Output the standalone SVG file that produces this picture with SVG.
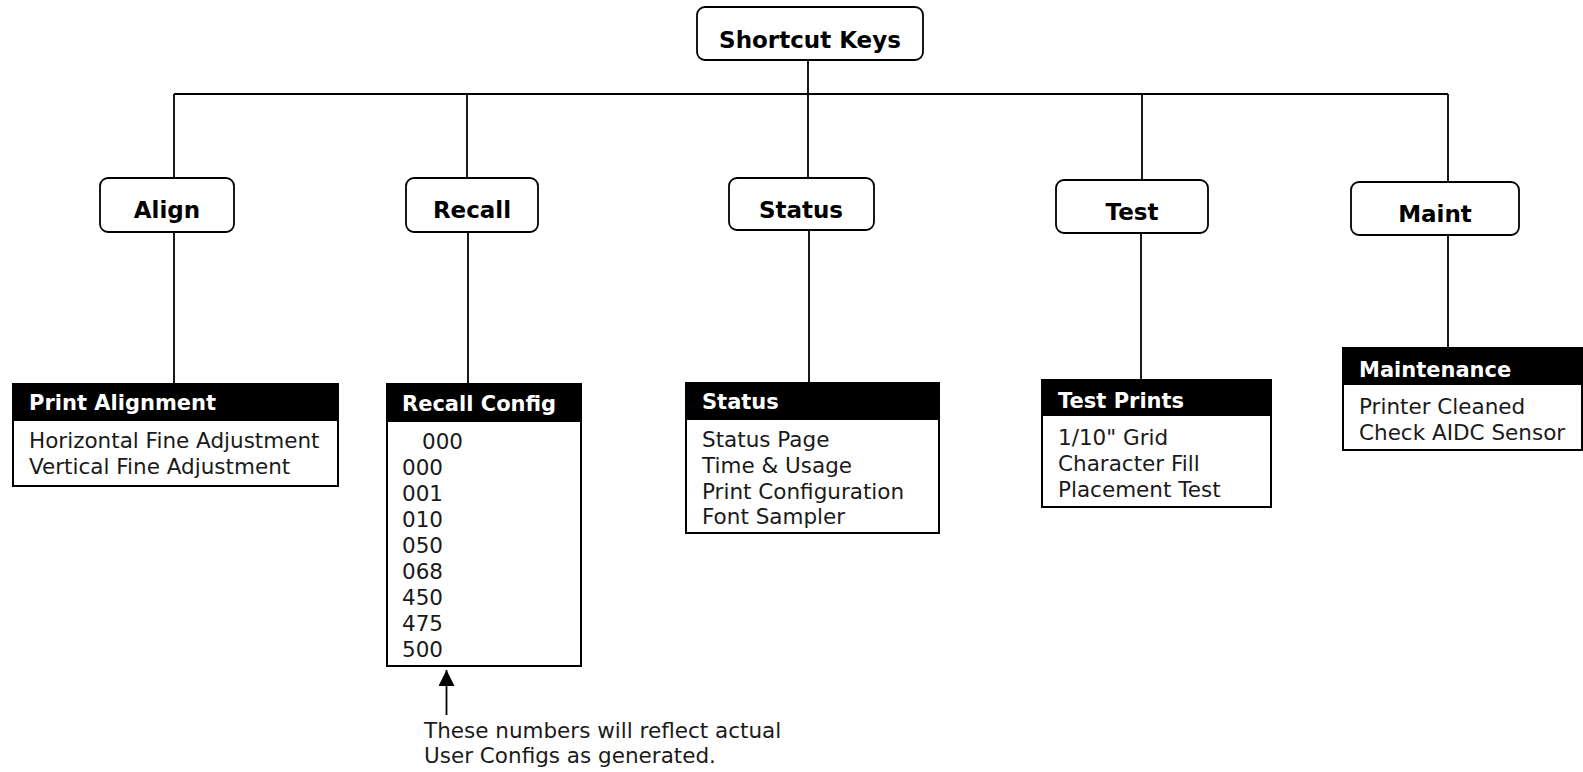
<svg xmlns="http://www.w3.org/2000/svg" width="1583" height="772" viewBox="0 0 1583 772">
<style>
.node{fill:#fff;stroke:#000;stroke-width:1.8}
.ttl{font-family:"DejaVu Sans",Verdana,sans-serif;font-weight:bold;font-size:23px;fill:#000;text-anchor:middle}
.box{fill:#fff;stroke:#000;stroke-width:2}
.hdr{fill:#000}
.htx{font-family:"DejaVu Sans",Verdana,sans-serif;font-weight:bold;font-size:21px;fill:#fff}
.btx{font-family:"DejaVu Sans",Verdana,sans-serif;font-size:21.5px;fill:#1a1a1a}
.ln{stroke:#000;stroke-width:1.8;fill:none}
</style>
<defs>
<marker id="ah" viewBox="0 0 10 10" refX="10" refY="5" markerWidth="16" markerHeight="16" markerUnits="userSpaceOnUse" orient="auto"><path d="M0,0 L10,5 L0,10 Z" fill="#000"/></marker>
</defs>
<g id="connectors">
<line class="ln" x1="808" y1="60" x2="808" y2="94"/>
<line class="ln" x1="174" y1="94" x2="1448" y2="94"/>
<line class="ln" x1="174" y1="94" x2="174" y2="179"/>
<line class="ln" x1="467" y1="94" x2="467" y2="178"/>
<line class="ln" x1="808" y1="94" x2="808" y2="178"/>
<line class="ln" x1="1142" y1="94" x2="1142" y2="180"/>
<line class="ln" x1="1448" y1="94" x2="1448" y2="182"/>
<line class="ln" x1="174" y1="232" x2="174" y2="384"/>
<line class="ln" x1="468" y1="232" x2="468" y2="384"/>
<line class="ln" x1="809" y1="230" x2="809" y2="383"/>
<line class="ln" x1="1141" y1="233" x2="1141" y2="380"/>
<line class="ln" x1="1448" y1="235" x2="1448" y2="348"/>
<line class="ln" x1="446.5" y1="715" x2="446.5" y2="670" marker-end="url(#ah)"/>
</g>
<g id="shortcut-keys">
<rect class="node" x="697" y="7" width="226" height="53" rx="8"/>
<text class="ttl" x="810" y="48">Shortcut Keys</text>
</g>
<g id="align">
<rect class="node" x="100" y="178" width="134" height="54" rx="8"/>
<text class="ttl" x="167" y="218">Align</text>
</g>
<g id="recall">
<rect class="node" x="406" y="178" width="132" height="54" rx="8"/>
<text class="ttl" x="472" y="218">Recall</text>
</g>
<g id="status">
<rect class="node" x="729" y="178" width="145" height="52" rx="8"/>
<text class="ttl" x="801" y="218">Status</text>
</g>
<g id="test">
<rect class="node" x="1056" y="180" width="152" height="53" rx="8"/>
<text class="ttl" x="1132" y="220">Test</text>
</g>
<g id="maint">
<rect class="node" x="1351" y="182" width="168" height="53" rx="8"/>
<text class="ttl" x="1435" y="222">Maint</text>
</g>
<g id="print-alignment">
<rect class="box" x="13" y="384" width="325" height="102"/>
<rect class="hdr" x="13" y="384" width="325" height="37"/>
<text class="htx" x="29" y="410">Print Alignment</text>
<text class="btx" x="29" y="448">Horizontal Fine Adjustment</text>
<text class="btx" x="29" y="474">Vertical Fine Adjustment</text>
</g>
<g id="recall-config">
<rect class="box" x="387" y="384" width="194" height="282"/>
<rect class="hdr" x="387" y="384" width="194" height="38"/>
<text class="htx" x="402" y="411">Recall Config</text>
<text class="btx" x="422" y="449">000</text>
<text class="btx" x="402" y="475">000</text>
<text class="btx" x="402" y="501">001</text>
<text class="btx" x="402" y="527">010</text>
<text class="btx" x="402" y="553">050</text>
<text class="btx" x="402" y="579">068</text>
<text class="btx" x="402" y="605">450</text>
<text class="btx" x="402" y="631">475</text>
<text class="btx" x="402" y="657">500</text>
</g>
<g id="status-list">
<rect class="box" x="686" y="383" width="253" height="150"/>
<rect class="hdr" x="686" y="383" width="253" height="37"/>
<text class="htx" x="702" y="409">Status</text>
<text class="btx" x="702" y="447">Status Page</text>
<text class="btx" x="702" y="473">Time &amp; Usage</text>
<text class="btx" x="702" y="499">Print Configuration</text>
<text class="btx" x="702" y="524">Font Sampler</text>
</g>
<g id="test-prints">
<rect class="box" x="1042" y="380" width="229" height="127"/>
<rect class="hdr" x="1042" y="380" width="229" height="36"/>
<text class="htx" x="1058" y="408">Test Prints</text>
<text class="btx" x="1058" y="445">1/10" Grid</text>
<text class="btx" x="1058" y="471">Character Fill</text>
<text class="btx" x="1058" y="497">Placement Test</text>
</g>
<g id="maintenance">
<rect class="box" x="1343" y="348" width="239" height="102"/>
<rect class="hdr" x="1343" y="348" width="239" height="37"/>
<text class="htx" x="1359" y="377">Maintenance</text>
<text class="btx" x="1359" y="414">Printer Cleaned</text>
<text class="btx" x="1359" y="440">Check AIDC Sensor</text>
</g>
<g id="note">
<text class="btx" x="424" y="738">These numbers will reflect actual</text>
<text class="btx" x="424" y="763">User Configs as generated.</text>
</g>
</svg>
